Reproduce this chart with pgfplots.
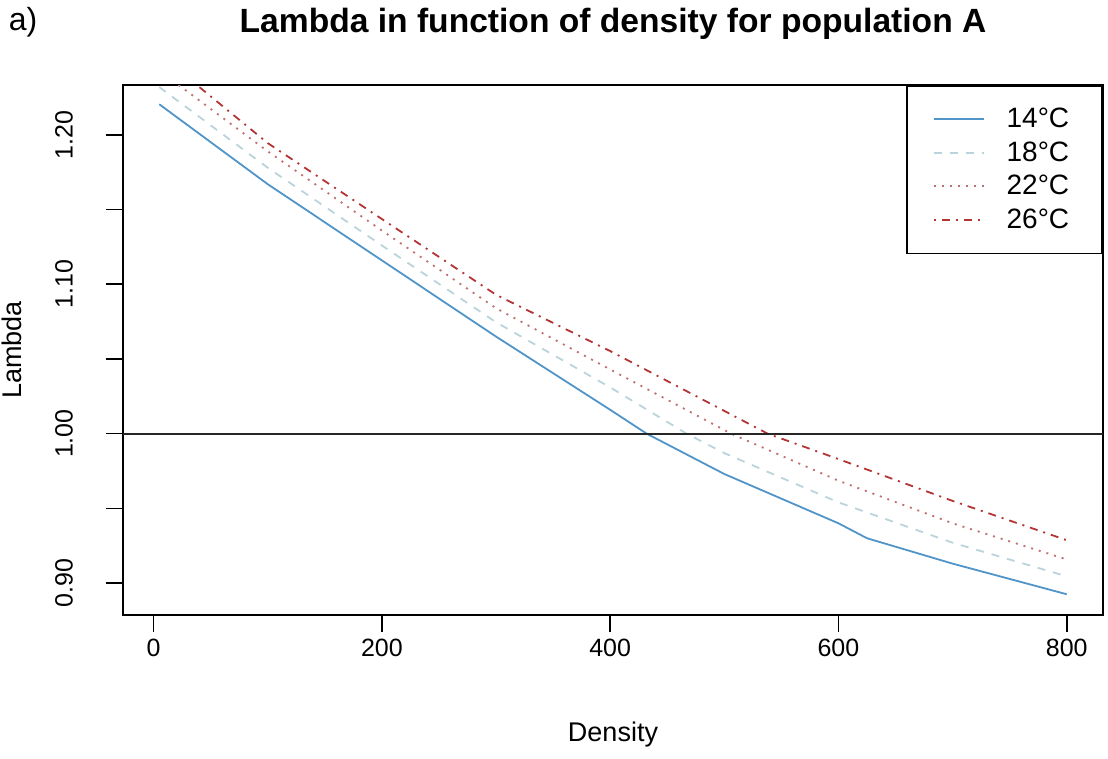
\documentclass[border=0pt]{standalone}
\usepackage{pgfplots}
\pgfplotsset{compat=1.18}
\usepackage{fontspec}
\setmainfont{Liberation Sans}
\definecolor{c14}{RGB}{80,148,200}
\definecolor{c18}{RGB}{185,212,218}
\definecolor{c22}{RGB}{192,112,112}
\definecolor{c26}{RGB}{178,52,52}
\begin{document}
\begin{tikzpicture}
\begin{axis}[
  scale only axis, width=490pt, height=265pt,
  xmin=-26.8, xmax=831.8, ymin=0.8786, ymax=1.2334,
  axis line style={line width=0.8pt},
  tick style={black, line width=0.8pt},
  tick align=outside, major tick length=8.5pt,
  xtick pos=bottom, ytick pos=left,
  xtick={0,200,400,600,800}, xticklabels={0,200,400,600,800},
  ytick={0.9,0.95,1.0,1.05,1.1,1.15,1.2},
  yticklabels={0.90,,1.00,,1.10,,1.20},
  ticklabel style={font=\fontsize{12.5}{15}\selectfont},
  yticklabel style={rotate=90, anchor=south, yshift=13pt},
  xlabel={Density},
  xlabel style={at={(axis description cs:0.5,-0.2264)}, anchor=center, font=\fontsize{13.5}{16}\selectfont},
  ylabel={Lambda},
  ylabel style={at={(axis description cs:-0.1133,0.5)}, anchor=center, font=\fontsize{13.5}{16}\selectfont},
  legend style={at={(rel axis cs:1,1)}, anchor=north east, draw=black, line width=0.8pt, fill=white,
    inner xsep=13pt, inner ysep=8.4pt, row sep=0pt, column sep=11pt,
    font=\fontsize{14}{16}\selectfont,
    nodes={inner sep=0pt, minimum height=16.75pt}},
  legend cell align=left,
  legend image code/.code={\draw[#1] (0pt,0pt) -- (25pt,0pt);},
]
\addplot[c14, line width=0.9pt, solid] coordinates {
 (5,1.2205) (100,1.167) (200,1.116) (300,1.065) (400,1.016) (432,1.0)
 (500,0.973) (600,0.940) (625,0.930) (700,0.913) (800,0.8925)};
\addlegendentry{14°C\rule{3.5pt}{0pt}}
\addplot[c18, line width=0.9pt, dash pattern=on 4pt off 4pt] coordinates {
 (5,1.232) (100,1.178) (200,1.126) (300,1.0746) (400,1.031) (467,1.0)
 (500,0.987) (600,0.954) (700,0.927) (800,0.9045)};
\addlegendentry{18°C\rule{3.5pt}{0pt}}
\addplot[c22, line width=0.9pt, dash pattern=on 1pt off 3pt] coordinates {
 (5,1.243) (100,1.189) (200,1.136) (300,1.0840) (400,1.043) (506,1.0)
 (600,0.9685) (700,0.940) (800,0.9158)};
\addlegendentry{22°C\rule{3.5pt}{0pt}}
\addplot[c26, line width=0.9pt, dash pattern=on 1pt off 3pt on 4pt off 3pt] coordinates {
 (5,1.254) (100,1.1945) (200,1.1437) (300,1.0930) (400,1.0553) (538,1.0)
 (600,0.983) (700,0.955) (800,0.9287)};
\addlegendentry{26°C\rule{3.5pt}{0pt}}
\addplot[black!85, line width=1pt, forget plot] coordinates {(-26.8,1) (831.8,1)};
\end{axis}
\node[font=\bfseries\fontsize{16.8}{19}\selectfont, anchor=center, xshift=245pt, yshift=295.5pt] at (current axis.south west) {Lambda in function of density for population A};
\node[font=\fontsize{16}{19}\selectfont, anchor=center, xshift=-50pt, yshift=296.5pt] at (current axis.south west) {a)};
\pgfresetboundingbox
\path ([xshift=-61.5pt,yshift=-71.5pt]current axis.south west) rectangle ([xshift=2.5pt,yshift=42.5pt]current axis.north east);
\end{tikzpicture}
\end{document}
